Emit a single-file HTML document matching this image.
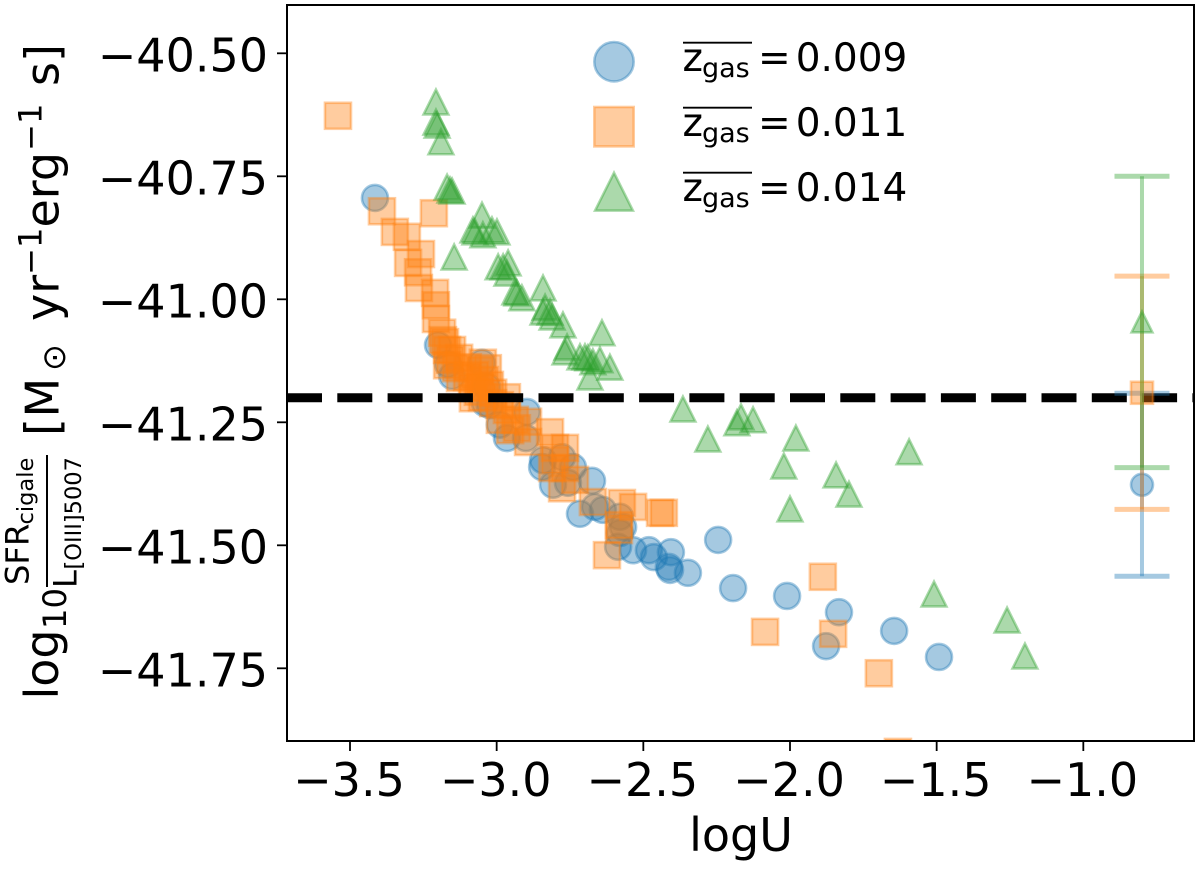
<!DOCTYPE html>
<html lang="en">
<head>
<meta charset="utf-8">
<title>SFR / L[OIII] vs logU</title>
<style>
html,body{margin:0;padding:0;background:#fff;}
svg{display:block;}
text{font-family:"DejaVu Sans","Liberation Sans",sans-serif;fill:#000;}
</style>
</head>
<body>
<svg id="chart" xmlns="http://www.w3.org/2000/svg" width="1200" height="869" viewBox="0 0 1200 869">
  <defs><clipPath id="plot-clip"><rect x="287" y="5" width="907" height="736"/></clipPath></defs>
  <g id="plot" clip-path="url(#plot-clip)"></g>
  <g id="axes"></g>
  <g id="legend"></g>
  <g id="ylabel"></g>
  <text x="741" y="851" font-size="46" text-anchor="middle">logU</text>
</svg>
<script>
const xTicks = [-3.5, -3.0, -2.5, -2.0, -1.5, -1.0];
const xTickLabels = ["\u22123.5", "\u22123.0", "\u22122.5", "\u22122.0", "\u22121.5", "\u22121.0"];
const yTicks = [-40.5, -40.75, -41.0, -41.25, -41.5, -41.75];
const yTickLabels = ["\u221240.50", "\u221240.75", "\u221241.00", "\u221241.25", "\u221241.50", "\u221241.75"];
const referenceLevel = -41.2;

const blueX = [-3.415,-3.200,-3.166,-3.152,-3.050,-3.033,-3.040,-3.023,-2.897,-2.965,-2.989,-2.900,-2.845,-2.842,-2.740,-2.808,-2.757,-2.777,-2.675,-2.716,-2.665,-2.638,-2.580,-2.569,-2.580,-2.586,-2.535,-2.481,-2.464,-2.406,-2.413,-2.409,-2.348,-2.245,-2.194,-2.010,-1.833,-1.877,-1.645,-1.492];
const blueY = [-40.794,-41.093,-41.132,-41.156,-41.129,-41.178,-41.211,-41.215,-41.229,-41.282,-41.255,-41.282,-41.341,-41.327,-41.341,-41.377,-41.373,-41.321,-41.369,-41.436,-41.422,-41.428,-41.442,-41.463,-41.475,-41.503,-41.510,-41.510,-41.524,-41.514,-41.544,-41.550,-41.556,-41.489,-41.587,-41.603,-41.636,-41.705,-41.674,-41.727];

const orangeX = [-3.541,-3.391,-3.214,-3.347,-3.306,-3.258,-3.302,-3.268,-3.265,-3.210,-3.207,-3.207,-3.186,-3.183,-3.169,-3.159,-3.169,-3.128,-3.098,-3.047,-3.030,-3.101,-3.057,-3.012,-3.050,-2.965,-3.012,-2.965,-3.081,-2.989,-2.893,-2.818,-2.931,-2.893,-2.801,-2.767,-2.801,-2.811,-2.767,-2.733,-2.777,-2.672,-2.573,-2.535,-2.430,-2.443,-2.583,-2.583,-2.624,-1.888,-2.085,-1.853,-1.697,-1.632,-3.074,-3.057,-3.040,-3.084,-3.023,-3.125,-3.139,-3.176,-3.152,-3.064,-2.989,-2.938,-2.954];
const orangeY = [-40.627,-40.821,-40.825,-40.863,-40.873,-40.908,-40.926,-40.945,-40.977,-40.987,-41.012,-41.040,-41.068,-41.083,-41.103,-41.123,-41.134,-41.119,-41.138,-41.129,-41.140,-41.158,-41.178,-41.190,-41.199,-41.199,-41.211,-41.225,-41.201,-41.245,-41.249,-41.270,-41.262,-41.290,-41.302,-41.302,-41.327,-41.343,-41.343,-41.367,-41.384,-41.412,-41.414,-41.422,-41.434,-41.434,-41.459,-41.469,-41.520,-41.564,-41.676,-41.680,-41.760,-41.920,-41.154,-41.144,-41.164,-41.180,-41.174,-41.160,-41.140,-41.087,-41.103,-41.188,-41.215,-41.245,-41.266];

const greenX = [-3.207,-3.207,-3.203,-3.190,-3.169,-3.159,-3.152,-3.050,-3.081,-3.016,-3.074,-3.047,-2.999,-3.145,-2.995,-2.978,-2.961,-2.965,-2.931,-2.938,-2.914,-2.842,-2.835,-2.842,-2.818,-2.811,-2.774,-2.760,-2.767,-2.716,-2.699,-2.689,-2.641,-2.648,-2.672,-2.614,-2.682,-2.365,-2.280,-2.181,-2.167,-2.126,-1.980,-2.021,-1.843,-1.799,-2.000,-1.594,-1.509,-1.260,-1.199];
const greenY = [-40.599,-40.640,-40.646,-40.680,-40.772,-40.778,-40.780,-40.829,-40.859,-40.859,-40.863,-40.869,-40.863,-40.914,-40.934,-40.934,-40.926,-40.947,-40.987,-40.985,-40.997,-40.977,-41.016,-41.026,-41.026,-41.036,-41.052,-41.097,-41.107,-41.117,-41.117,-41.119,-41.068,-41.123,-41.127,-41.138,-41.158,-41.223,-41.284,-41.251,-41.239,-41.245,-41.282,-41.339,-41.357,-41.396,-41.426,-41.310,-41.599,-41.652,-41.725];

const errorX = [-0.8, -0.8, -0.8];
const errorY = [-41.377, -41.190, -41.046];
const errorSize = [0.186, 0.237, 0.296];
const legendLabels = ["0.009", "0.011", "0.014"];

const NS = "http://www.w3.org/2000/svg";
const BLUE = "#1f77b4", ORANGE = "#ff7f0e", GREEN = "#2ca02c";
const xScale = v => 350 + (v + 3.5) * 293.33;
const yScale = v => 53.3 + (-40.5 - v) * 492;

function make(tag, attrs, parent) {
  const el = document.createElementNS(NS, tag);
  for (const k in attrs) el.setAttribute(k, attrs[k]);
  parent.appendChild(el);
  return el;
}
function markerShape(kind, cx, cy, h, color, parent) {
  const style = { fill: color, stroke: color, "fill-opacity": 0.4, "stroke-opacity": 0.4, "stroke-width": 2.6 };
  if (kind === "circle") return make("circle", { cx, cy, r: h, ...style }, parent);
  if (kind === "square") return make("rect", { x: cx - h, y: cy - h, width: 2 * h, height: 2 * h, ...style }, parent);
  const pts = `${cx},${cy - h} ${cx - h},${cy + h} ${cx + h},${cy + h}`;
  return make("polygon", { points: pts, "stroke-linejoin": "miter", "stroke-miterlimit": 10, ...style }, parent);
}

const plot = document.getElementById("plot");
const axes = document.getElementById("axes");
const legend = document.getElementById("legend");
const ylabel = document.getElementById("ylabel");

blueX.forEach((v, i) => {
  const m = markerShape("circle", xScale(v), yScale(blueY[i]), 13, BLUE, plot);
  
  
});
orangeX.forEach((v, i) => {
  const m = markerShape("square", xScale(v), yScale(orangeY[i]), 13, ORANGE, plot);
  
  
});
greenX.forEach((v, i) => {
  const m = markerShape("triangle", xScale(v), yScale(greenY[i]), 12.4, GREEN, plot);
  
  
});

const refLine = make("line", { x1: 287, x2: 1194, y1: yScale(referenceLevel), y2: yScale(referenceLevel), stroke: "#000", "stroke-width": 9, "stroke-dasharray": "35 15.3" }, plot);



const errKinds = ["circle", "square", "triangle"];
const errColors = [BLUE, ORANGE, GREEN];
const errNames = ["blue", "orange", "green"];
errorX.forEach((v, i) => {
  const cx = xScale(v), top = yScale(errorY[i] + errorSize[i]), bot = yScale(errorY[i] - errorSize[i]);
  const g = make("g", { stroke: errColors[i], "stroke-opacity": 0.4 }, plot);
  
  
  make("line", { x1: cx, x2: cx, y1: top, y2: bot, "stroke-width": 4 }, g);
  make("line", { x1: cx - 27.5, x2: cx + 27.5, y1: top, y2: top, "stroke-width": 5 }, g);
  make("line", { x1: cx - 27.5, x2: cx + 27.5, y1: bot, y2: bot, "stroke-width": 5 }, g);
  const m = markerShape(errKinds[i], cx, yScale(errorY[i]), errKinds[i] === "triangle" ? 10.4 : 11, errColors[i], plot);
  
  
});

/* axes */
const frame = make("rect", { x: 287, y: 5, width: 907, height: 736, fill: "none", stroke: "#000", "stroke-width": 2 }, axes);


xTicks.forEach((v, i) => {
  const x = xScale(v);
  const t = make("line", { x1: x, x2: x, y1: 741, y2: 751, stroke: "#000", "stroke-width": 1.8 }, axes);
  
  
  const l = make("text", { x: x - 1, y: 796, "font-size": 46, "text-anchor": "middle" }, axes);
  l.textContent = xTickLabels[i];
  
  
});
yTicks.forEach((v, i) => {
  const y = yScale(v);
  const t = make("line", { x1: 277, x2: 287, y1: y, y2: y, stroke: "#000", "stroke-width": 1.8 }, axes);
  
  
  const l = make("text", { x: 268, y: y + 18.4, "font-size": 46, "text-anchor": "end" }, axes);
  l.textContent = yTickLabels[i];
  
  
});

/* legend */
legendLabels.forEach((label, i) => {
  const base = 71 + i * 65;
  const g = make("g", {}, legend);
  
  
  const kind = errKinds[i];
  markerShape(kind, 614, base - 9.3, kind === "triangle" ? 18.9 : 19.7, errColors[i], g);
  make("line", { x1: 683, x2: 752, y1: base - 28.3, y2: base - 28.3, stroke: "#000", "stroke-width": 1.8 }, g);
  make("text", { x: 682.5, y: base, "font-size": 39 }, g).textContent = "z";
  make("text", { x: 702, y: base + 6, "font-size": 27 }, g).textContent = "gas";
  make("text", { x: 758, y: base, "font-size": 39 }, g).textContent = "=";
  make("text", { x: 795.7, y: base, "font-size": 39 }, g).textContent = label;
});

/* rotated y-axis label pieces: [text, baseline x, start y, font size] */
const yLabelParts = [
  ["log", 57.8, 699.5, 46],
  ["10", 66, 629, 32.2],
  ["SFR", 28.5, 585, 32.2],
  ["cigale", 33, 524.5, 22.5],
  ["L", 76.7, 588, 32.2],
  ["[OIII]5007", 81, 569.5, 22.5],
  ["[", 58.5, 436, 46],
  ["M", 58.3, 417.5, 46],
  ["\u2299", 65, 371, 32.2],
  ["yr", 58.3, 321, 46],
  ["\u22121", 41.5, 275, 32.2],
  ["erg", 58.3, 227.5, 46],
  ["\u22121", 41.5, 151, 32.2],
  ["s", 58.3, 86, 46],
  ["]", 58.5, 62, 46]
];
yLabelParts.forEach(p => {
  const t = make("text", { transform: `translate(${p[1]},${p[2]}) rotate(-90)`, "font-size": p[3] }, ylabel);
  t.textContent = p[0];
  
  
});
const fracBar = make("line", { x1: 47, x2: 47, y1: 455, y2: 587, stroke: "#000", "stroke-width": 2 }, ylabel);


</script>
</body>
</html>
